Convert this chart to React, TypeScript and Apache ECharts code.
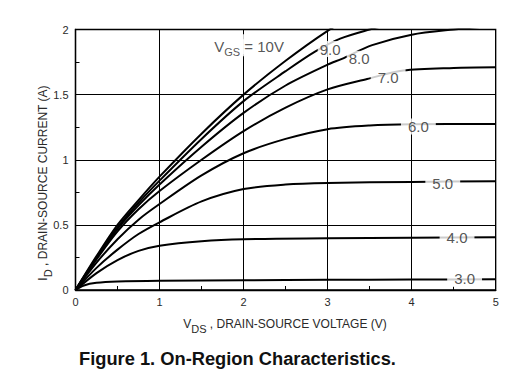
import React, { useEffect, useRef } from "react";
import * as echarts from "echarts";

const vgs10 = [[0,0],[0.25,0.26],[0.5,0.5],[0.75,0.69],[1,0.87],[1.5,1.2],[2,1.5],[2.5,1.76],[3,1.99],[3.3,2.1]];
const vgs9 = [[0,0],[0.25,0.25],[0.5,0.48],[0.75,0.67],[1,0.84],[1.5,1.16],[2,1.45],[2.5,1.68],[2.85,1.83],[3.15,1.93],[3.5,2.0],[3.8,2.05]];
const vgs8 = [[0,0],[0.25,0.245],[0.5,0.47],[0.75,0.65],[1,0.81],[1.5,1.1],[2,1.36],[2.5,1.57],[3,1.73],[3.17,1.775],[3.53,1.88],[4,1.96],[4.5,2.0],[5,2.03]];
const vgs7 = [[0,0],[0.25,0.235],[0.5,0.45],[0.75,0.62],[1,0.76],[1.5,1.0],[2,1.22],[2.5,1.4],[3,1.54],[3.47,1.62],[3.9,1.685],[4.5,1.705],[5,1.71]];
const vgs6 = [[0,0],[0.25,0.21],[0.5,0.39],[0.75,0.54],[1,0.66],[1.5,0.88],[2,1.05],[2.5,1.16],[3,1.235],[3.5,1.263],[4,1.272],[5,1.275]];
const vgs5 = [[0,0],[0.25,0.17],[0.5,0.31],[0.75,0.43],[1,0.52],[1.5,0.68],[2,0.775],[2.5,0.81],[3,0.822],[4,0.83],[5,0.835]];
const vgs4 = [[0,0],[0.25,0.13],[0.5,0.23],[0.75,0.3],[1,0.34],[1.5,0.375],[2,0.39],[3,0.397],[4,0.402],[5,0.405]];
const vgs3 = [[0,0],[0.1,0.035],[0.25,0.055],[0.5,0.065],[1,0.071],[2,0.075],[3,0.078],[4,0.08],[5,0.082]];

const curveData = [vgs10, vgs9, vgs8, vgs7, vgs6, vgs5, vgs4, vgs3];

const labelText = ["9.0", "8.0", "7.0", "6.0", "5.0", "4.0", "3.0"];
const labelX = [3.03, 3.375, 3.72, 4.08, 4.37, 4.54, 4.63];
const labelY = [1.85, 1.775, 1.635, 1.255, 0.82, 0.40, 0.085];
const vgsLabelPos = [2.065, 1.88];

const xTicks = [0, 1, 2, 3, 4, 5];
const yTicks = [0, 0.5, 1, 1.5, 2];

const FONT = "'Liberation Sans', Arial, sans-serif";
const TXT = "#2a2a2a";

export default function App() {
  const ref = useRef<HTMLDivElement>(null);
  useEffect(() => {
    if (!ref.current) return;
    const chart = echarts.init(ref.current, undefined, { renderer: "svg" });
    const lineSeries = curveData.map((d) => ({
      type: "line",
      data: d,
      smooth: 0.3,
      showSymbol: false,
      symbol: "none",
      clip: true,
      lineStyle: { color: "#000", width: 2 },
      z: 3,
    }));
    const labelSeries = {
      type: "scatter",
      symbolSize: 1,
      itemStyle: { color: "rgba(0,0,0,0)" },
      z: 5,
      data: labelText.map((t, i) => ({
        value: [labelX[i], labelY[i]],
        name: t,
        label: {
          show: true,
          position: "inside",
          formatter: t,
          color: TXT,
          fontSize: 15,
          fontFamily: FONT,
          backgroundColor: "#fff",
          padding: i < 2 ? [0, 2] : [0, 7],
          lineHeight: 16,
        },
      })).concat([
        {
          value: vgsLabelPos,
          name: "vgs",
          label: {
            show: true,
            position: "inside",
            formatter: "{v|V}{s|GS}{v| = 10V}",
            backgroundColor: "#fff",
            padding: [2, 2],
            rich: {
              v: { fontSize: 15, fontFamily: FONT, color: TXT, lineHeight: 18, verticalAlign: "bottom", backgroundColor: "#fff" },
              s: { fontSize: 11, fontFamily: FONT, color: TXT, lineHeight: 18, verticalAlign: "bottom", backgroundColor: "#fff", padding: [0, 0, -3, 0] },
            },
          } as any,
        },
      ]),
    };
    const titleRich = {
      v: { fontSize: 12, fontFamily: FONT, fill: TXT, lineHeight: 16, verticalAlign: "bottom" },
      s: { fontSize: 11, fontFamily: FONT, fill: TXT, lineHeight: 16, verticalAlign: "bottom", padding: [0, 0, -4, 0] },
    };
    chart.setOption({
      animation: false,
      backgroundColor: "#fff",
      grid: {
        left: 75.5,
        right: 36.3,
        top: 29.5,
        bottom: 95,
        show: true,
        borderColor: "#000",
        borderWidth: 1.3,
      },
      xAxis: {
        type: "value",
        min: xTicks[0],
        max: xTicks[xTicks.length - 1],
        interval: 1,
        axisLine: { show: true, lineStyle: { color: "#000", width: 1.3 } },
        axisTick: { show: true, inside: true, length: 4, lineStyle: { color: "#000" } },
        minorTick: { show: true, splitNumber: 2, length: 4, lineStyle: { color: "#000", width: 1 } },
        splitLine: { show: true, lineStyle: { color: "#000", width: 1 } },
        axisLabel: { color: TXT, fontSize: 11, fontFamily: FONT, margin: 6 },
      },
      yAxis: {
        type: "value",
        min: yTicks[0],
        max: yTicks[yTicks.length - 1],
        interval: 0.5,
        axisLine: { show: true, lineStyle: { color: "#000", width: 1.3 } },
        axisTick: { show: true, inside: true, length: 4, lineStyle: { color: "#000" } },
        minorTick: { show: true, splitNumber: 2, length: 4, lineStyle: { color: "#000", width: 1 } },
        splitLine: { show: true, lineStyle: { color: "#000", width: 1 } },
        axisLabel: { color: TXT, fontSize: 11, fontFamily: FONT, margin: 7 },
      },
      graphic: [
        {
          type: "text",
          x: 285,
          y: 322,
          style: {
            text: "{v|V}{s|DS}{v| , DRAIN-SOURCE VOLTAGE (V)}",
            align: "center",
            verticalAlign: "middle",
            rich: titleRich,
          } as any,
        },
        {
          type: "text",
          x: 41,
          y: 183,
          rotation: Math.PI / 2,
          style: {
            text: "{v|I}{s|D}{v| , DRAIN-SOURCE CURRENT (A)}",
            align: "center",
            verticalAlign: "middle",
            rich: titleRich,
          } as any,
        },
        {
          type: "text",
          x: 79,
          y: 358,
          style: {
            text: "Figure 1. On-Region Characteristics.",
            fontSize: 18.3,
            fontWeight: "bold",
            fontFamily: FONT,
            fill: "#111",
            verticalAlign: "middle",
          },
        },
      ],
      series: [...lineSeries, labelSeries],
    } as any);
    return () => chart.dispose();
  }, []);
  return (
    <div
      ref={ref}
      style={{ position: "fixed", left: 0, top: 0, width: 532, height: 385 }}
    />
  );
}
